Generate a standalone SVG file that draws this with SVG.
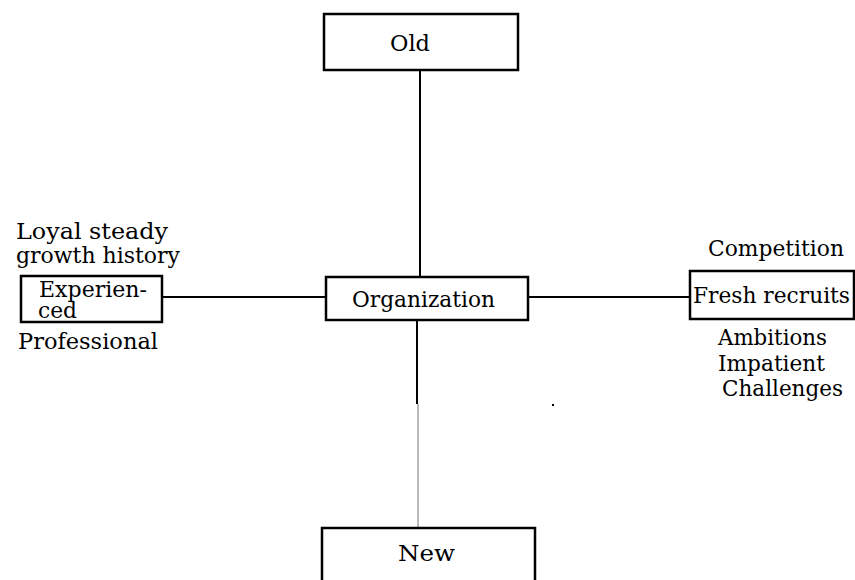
<svg xmlns="http://www.w3.org/2000/svg" width="855" height="580" viewBox="0 0 855 580">
  <style>
    .box { fill: #ffffff; stroke: #000000; stroke-width: 2.5; }
    .link { stroke: #000000; stroke-width: 2; fill: none; }
    .thin { stroke: #8a8a8a; stroke-width: 1.2; fill: none; }
    text { font-family: "DejaVu Serif", "Liberation Serif", serif; font-size: 23px; fill: #000000; }
  </style>
  <rect width="855" height="580" fill="#ffffff"/>

  <g id="connectors">
    <line class="link" x1="420" y1="70" x2="420" y2="277"/>
    <line class="link" x1="417" y1="320" x2="417" y2="404"/>
    <line class="thin" x1="418" y1="404" x2="418" y2="528"/>
    <line class="link" x1="162" y1="297" x2="326" y2="297"/>
    <line class="link" x1="528" y1="297" x2="690" y2="297"/>
  </g>

  <g id="old">
    <rect class="box" x="324" y="14" width="194" height="56"/>
    <text x="390" y="51" textLength="40" lengthAdjust="spacingAndGlyphs">Old</text>
  </g>

  <g id="organization">
    <rect class="box" x="326" y="277" width="202" height="43"/>
    <text x="352" y="307" textLength="143" lengthAdjust="spacingAndGlyphs">Organization</text>
  </g>

  <g id="new">
    <rect class="box" x="322" y="528" width="213" height="70"/>
    <text x="398" y="561" textLength="57" lengthAdjust="spacingAndGlyphs">New</text>
  </g>

  <g id="experienced">
    <text x="16" y="239" textLength="152" lengthAdjust="spacingAndGlyphs">Loyal steady</text>
    <text x="16" y="263" textLength="164" lengthAdjust="spacingAndGlyphs">growth history</text>
    <rect class="box" x="21" y="276" width="141" height="46"/>
    <text x="39" y="297" textLength="108" lengthAdjust="spacingAndGlyphs">Experien-</text>
    <text x="38" y="318" textLength="39" lengthAdjust="spacingAndGlyphs">ced</text>
    <text x="18" y="349" textLength="140" lengthAdjust="spacingAndGlyphs">Professional</text>
  </g>

  <g id="fresh-recruits">
    <text x="708" y="256" textLength="136" lengthAdjust="spacingAndGlyphs">Competition</text>
    <rect class="box" x="690" y="271" width="164" height="48"/>
    <text x="693" y="303" textLength="157" lengthAdjust="spacingAndGlyphs">Fresh recruits</text>
    <text x="718" y="345" textLength="109" lengthAdjust="spacingAndGlyphs">Ambitions</text>
    <text x="718" y="371" textLength="107" lengthAdjust="spacingAndGlyphs">Impatient</text>
    <text x="722" y="396" textLength="121" lengthAdjust="spacingAndGlyphs">Challenges</text>
  </g>

  <rect x="552" y="404" width="2" height="2" fill="#000000"/>
</svg>
